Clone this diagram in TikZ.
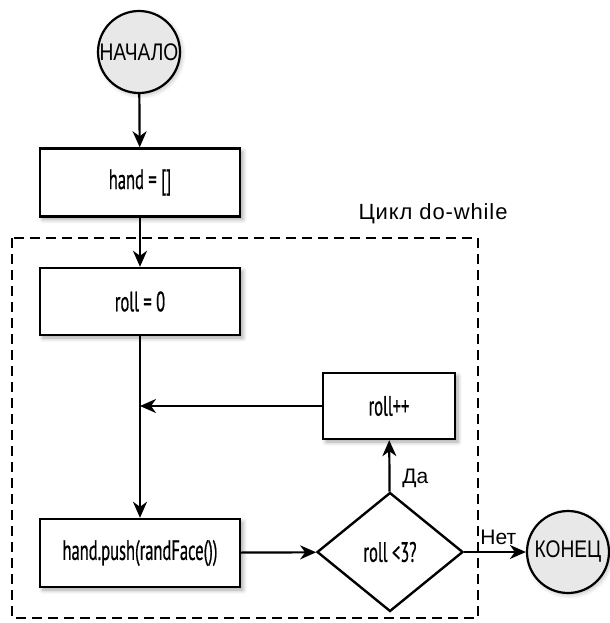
\documentclass[tikz,border=0pt]{standalone}
\usepackage{fontspec}
\setmainfont{Liberation Sans}
\newfontfamily\termfont[FakeStretch=0.8]{Liberation Sans}
\newfontfamily\capfont[LetterSpace=4]{Liberation Sans}
\newfontfamily\boxfont[FakeStretch=0.59, FakeBold=0.6]{PT Sans}
\usetikzlibrary{arrows.meta,shapes.geometric,shadows.blur}

\tikzset{
  stepbox/.style={draw, line width=1.2pt, fill=white, minimum width=100pt,
    minimum height=34pt, inner sep=0pt, font=\boxfont\fontsize{14}{16}\selectfont,
    blur shadow={shadow xshift=1.5pt, shadow yshift=-1.5pt, shadow blur steps=6, shadow opacity=35}},
  terminal/.style={draw, circle, line width=1.1pt, fill=gray!18, minimum size=41pt,
    inner sep=0pt, font=\termfont\fontsize{12}{14}\selectfont,
    blur shadow={shadow xshift=1pt, shadow yshift=-1pt, shadow blur steps=5, shadow opacity=25}},
  decision/.style={draw, diamond, line width=1.2pt, fill=white, minimum width=73pt,
    minimum height=59.5pt, inner sep=0pt, font=\boxfont\fontsize{14}{16}\selectfont},
  flow/.style={line width=1.1pt, -{Stealth[length=8pt, width=7pt, inset=2.5pt]}},
  loopframe/.style={draw, line width=1.4pt, dash pattern=on 5pt off 3pt},
  note/.style={font=\fontsize{10.5}{12}\selectfont, inner sep=0pt}
}

\begin{document}
\begin{tikzpicture}[x=0.5pt, y=-0.5pt]
  \useasboundingbox (0,0) rectangle (610,623);

  % do-while loop frame and its caption
  \draw[loopframe] (12,238) rectangle (478,618);
  \node[note, font=\capfont\fontsize{11}{13}\selectfont] (looplabel) at (433,214) {Цикл do-while};

  % nodes
  \node[terminal] (start) at (139,52) {НАЧАЛО};
  \node[stepbox] (hand) at (140,182.5) {hand = []};
  \node[stepbox, minimum height=33.5pt] (roll0) at (140,301.5) {roll = 0};
  \node[stepbox] (push) at (140,553) {hand.push(randFace())};
  \node[stepbox, minimum width=66pt, minimum height=33pt] (rollpp) at (389,406) {roll++};
  \node[decision] (check) at (390,552) {roll <3?};
  \node[terminal] (stop) at (568,552) {КОНЕЦ};
  \coordinate (join) at (140,406);

  % connectors
  \draw[flow] (start) -- (hand);
  \draw[flow] (hand) -- (roll0);
  \draw[flow] (roll0) -- (push);
  \draw[flow] (rollpp) -- (join);
  \draw[flow] (push) -- (check);
  \draw[flow] (check) -- (rollpp);
  \draw[flow] (check) -- (stop);

  % branch labels
  \node[note, anchor=west] (yes) at (402,478) {Да};
  \node[note, anchor=west] (no) at (480,537) {Нет};
\end{tikzpicture}
\end{document}
